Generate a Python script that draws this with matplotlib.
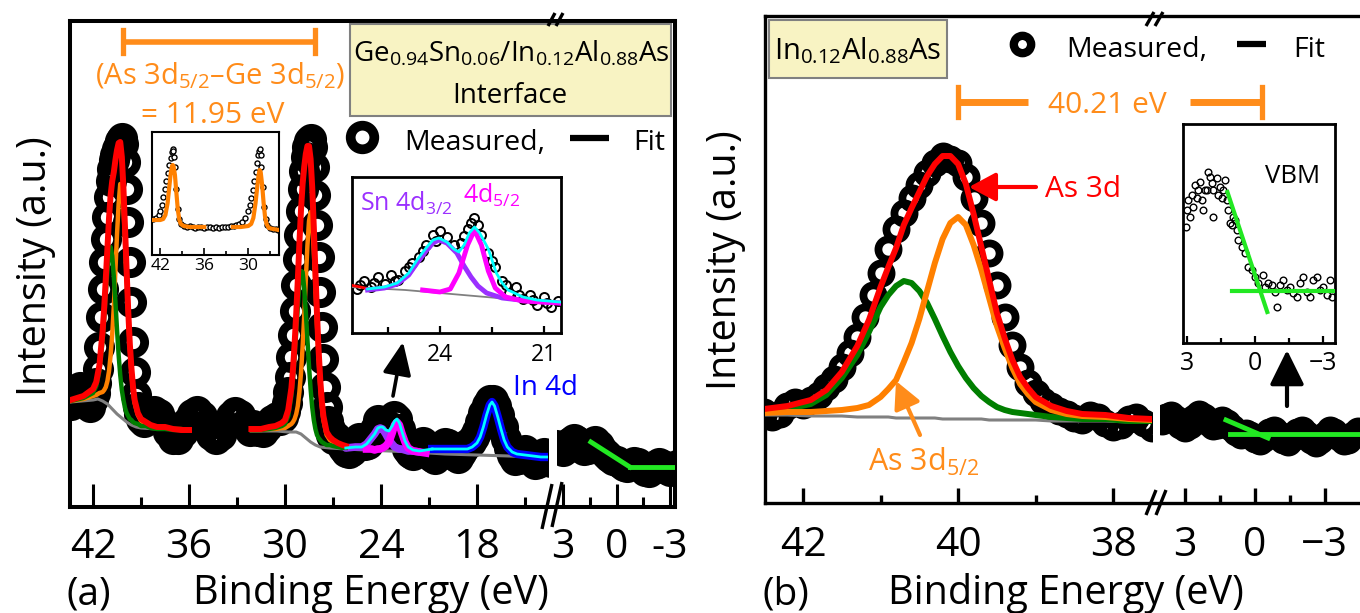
import matplotlib
matplotlib.use("Agg")
import matplotlib.pyplot as plt
from matplotlib.patches import Rectangle

plt.rcParams['font.family'] = ['Open Sans', 'DejaVu Sans']
plt.rcParams['mathtext.fontset'] = 'custom'
plt.rcParams['mathtext.rm'] = 'Open Sans'
plt.rcParams['mathtext.it'] = 'Open Sans:italic'
plt.rcParams['mathtext.bf'] = 'Open Sans:bold'

W, H = 1360, 613

ORANGE = '#FF8000'
ORANGE_T = '#FF8C1A'
GREEN = '#007F00'
LGREEN = '#22E822'
PURPLE = '#9B30FF'
MAGENTA = '#FF00FF'
GRAY = '#808080'

# ---------------- panel (a): Ge0.94Sn0.06 / In0.12Al0.88As interface ----------------
# intensity in arbitrary units, binding energy in eV
a_meas = [
    (43.4, 102), (43.2, 110), (43.0, 118), (42.8, 120), (42.6, 113), (42.4, 104), (42.2, 100), (42.0, 108),
    (41.9, 114), (41.8, 124), (41.7, 138), (41.6, 160), (41.5, 190), (41.4, 218), (41.3, 245), (41.2, 268),
    (41.1, 290), (41.0, 310), (40.9, 326), (40.8, 338), (40.7, 347), (40.6, 352), (40.5, 358), (40.4, 362),
    (40.3, 366), (40.2, 369), (40.1, 363), (40.0, 345), (39.9, 318), (39.8, 285), (39.7, 245), (39.6, 205),
    (39.5, 165), (39.4, 135), (39.3, 112), (39.2, 100), (39.1, 93), (39.0, 88),
    (38.8, 85), (38.5, 92), (38.2, 96), (37.9, 93), (37.6, 85), (37.3, 75), (37.0, 68), (36.7, 68), (36.4, 75),
    (36.1, 85), (35.8, 93), (35.5, 96), (35.2, 91), (34.9, 81), (34.6, 72), (34.3, 68), (34.0, 72), (33.7, 81),
    (33.4, 91), (33.1, 95), (32.8, 92), (32.5, 83), (32.2, 76),
    (32.0, 82), (31.7, 76), (31.4, 75), (31.1, 80), (30.8, 87), (30.5, 90), (30.3, 87), (30.1, 90), (30.0, 96),
    (29.9, 104), (29.8, 115), (29.7, 130), (29.6, 150), (29.5, 172), (29.4, 196), (29.3, 222), (29.2, 248),
    (29.1, 272), (29.0, 296), (28.9, 318), (28.8, 336), (28.7, 350), (28.6, 360), (28.5, 366), (28.4, 368),
    (28.3, 360), (28.2, 340), (28.1, 312), (28.0, 282), (27.9, 250), (27.8, 215), (27.7, 180), (27.6, 148),
    (27.5, 120), (27.4, 100), (27.3, 86), (27.2, 78), (27.1, 72), (27.0, 68),
    (26.8, 70), (26.6, 65), (26.4, 59), (26.2, 55), (26.0, 54), (25.8, 56), (25.6, 63), (25.4, 69), (25.2, 68),
    (25.0, 62), (24.8, 63), (24.6, 70), (24.4, 78), (24.2, 87), (24.0, 84), (23.8, 76), (23.6, 72), (23.4, 80),
    (23.2, 91), (23.0, 88), (22.8, 78), (22.6, 67), (22.4, 58), (22.2, 54), (22.0, 52), (21.8, 57), (21.6, 63),
    (21.4, 65), (21.2, 62), (21.0, 55), (20.8, 50), (20.6, 48), (20.4, 53), (20.2, 60), (20.0, 64), (19.8, 63),
    (19.6, 57), (19.4, 51), (19.2, 49), (19.0, 54), (18.8, 59), (18.6, 63), (18.4, 65), (18.2, 70), (18.0, 76),
    (17.8, 85), (17.6, 94), (17.4, 102), (17.2, 107), (17.0, 107), (16.8, 101), (16.6, 92), (16.4, 80), (16.2, 68),
    (16.0, 59), (15.8, 52), (15.6, 47), (15.4, 48), (15.2, 53), (15.0, 57), (14.8, 53), (14.6, 47), (14.4, 43),
    (14.2, 44), (14.0, 49), (13.8, 54), (13.6, 50), (13.4, 45),
]
a_meas_vb = [
    (3.4, 62), (3.2, 58), (3.0, 56), (2.8, 59), (2.6, 65), (2.4, 68), (2.2, 66), (2.0, 61), (1.8, 57), (1.6, 58),
    (1.4, 64), (1.2, 66), (1.0, 62), (0.8, 57), (0.6, 53), (0.4, 50), (0.2, 47), (0.0, 46), (-0.2, 44), (-0.4, 41),
    (-0.6, 40), (-0.8, 42), (-1.0, 45), (-1.2, 44), (-1.4, 40), (-1.6, 36), (-1.8, 35), (-2.0, 38), (-2.2, 42),
    (-2.4, 44), (-2.6, 42), (-2.8, 38), (-3.0, 36), (-3.2, 38), (-3.4, 42),
]

# As 3d region fit
a_be1 = [43.4, 42.6, 42.0, 41.8, 41.6, 41.4, 41.3, 41.2, 41.1, 41.0, 40.9, 40.8, 40.7, 40.6, 40.5, 40.4, 40.3,
         40.2, 40.1, 40.0, 39.9, 39.8, 39.7, 39.6, 39.5, 39.4, 39.2, 39.0, 38.7, 38.4, 38.0, 37.5, 37.0, 36.5, 36.0]
a_red1 = [107, 111, 118, 125, 142, 176, 200, 229, 259, 289, 312, 326, 335, 347, 357, 364, 365, 350, 319, 279,
          236, 196, 163, 139, 120, 107, 94, 88, 85, 82, 80, 80, 78, 77, 77]
a_orange1 = [106, 108, 111, 112, 114, 115, 117, 120, 126, 136, 152, 173, 201, 237, 273, 303, 323, 322, 300, 266,
             227, 189, 158, 134, 116, 104, 92, 86, 83, 81, 80, 80, 78, 78, 77]
a_green1 = [106, 109, 114, 121, 136, 167, 189, 214, 237, 254, 260, 251, 230, 205, 177, 152, 132, 117, 107, 99,
            94, 91, 88, 87, 85, 84, 83, 81, 81, 79, 78, 78, 77, 77, 77]
a_gray1 = [(43.4, 105), (42.0, 107), (41.7, 108), (41.4, 106), (41.1, 103), (40.8, 98), (40.5, 93), (40.2, 89),
           (39.9, 85), (39.6, 82), (39.3, 80), (39.0, 79), (38.0, 78), (36.0, 77)]

# Ge 3d region fit
a_be2 = [32.1, 31.5, 31.0, 30.6, 30.2, 30.0, 29.8, 29.6, 29.5, 29.4, 29.3, 29.2, 29.1, 29.0, 28.9, 28.8, 28.7,
         28.6, 28.5, 28.4, 28.3, 28.2, 28.1, 28.0, 27.9, 27.8, 27.7, 27.6, 27.4, 27.2, 27.0, 26.7, 26.4, 26.2]
a_red2 = [78, 78, 80, 81, 84, 87, 97, 119, 138, 163, 193, 227, 264, 297, 323, 340, 353, 361, 361, 348, 320, 280,
          236, 193, 157, 128, 106, 91, 75, 70, 67, 64, 62, 61]
a_orange2 = [77, 77, 78, 78, 79, 79, 81, 83, 85, 88, 93, 101, 115, 134, 160, 191, 227, 261, 286, 295, 284, 256,
             220, 182, 149, 121, 101, 87, 72, 67, 65, 62, 61, 60]
a_green2 = [77, 77, 78, 79, 81, 83, 91, 111, 128, 150, 175, 200, 223, 236, 235, 219, 195, 168, 141, 118, 100, 87,
            78, 72, 69, 67, 65, 64, 62, 62, 61, 60, 59, 59]
a_gray2 = [(32.1, 76), (30.5, 76), (29.8, 75), (29.3, 75), (29.0, 73), (28.7, 69), (28.4, 65), (28.1, 62),
           (27.8, 60), (27.2, 59), (26.2, 58), (25.0, 57), (23.5, 56), (22.0, 55), (20.0, 53), (18.0, 52),
           (16.0, 51), (14.5, 50), (13.5, 49)]

# Sn 4d and In 4d fits
a_sn32 = [(26.2, 59), (25.6, 60), (25.2, 60), (24.9, 63), (24.6, 69), (24.4, 73), (24.2, 78), (24.05, 79),
          (23.9, 78), (23.7, 73), (23.5, 67), (23.3, 63), (23.15, 60), (23.0, 59), (22.85, 58), (22.7, 58),
          (22.5, 57), (22.3, 56), (22.0, 56), (21.6, 55)]
a_sn52 = [(24.9, 58), (24.6, 58), (24.4, 57), (24.2, 58), (24.05, 58), (23.9, 59), (23.7, 61), (23.5, 65),
          (23.3, 74), (23.15, 82), (23.0, 85), (22.85, 82), (22.7, 74), (22.5, 65), (22.3, 59), (22.0, 56),
          (21.6, 55), (21.2, 54)]
a_sn_sum = [(26.2, 59), (25.6, 60), (25.2, 60), (24.9, 63), (24.6, 69), (24.4, 73), (24.2, 79), (24.05, 80),
            (23.9, 80), (23.7, 77), (23.5, 76), (23.3, 81), (23.15, 86), (23.0, 88), (22.85, 84), (22.7, 76),
            (22.5, 66), (22.3, 60), (22.0, 57), (21.6, 56), (21.2, 57), (20.8, 58)]
a_in4d = [(20.8, 58), (20.0, 58), (19.4, 58), (19.0, 58), (18.6, 58), (18.3, 60), (18.0, 64), (17.8, 70),
          (17.6, 80), (17.4, 92), (17.2, 102), (17.06, 105), (16.9, 101), (16.7, 90), (16.5, 78), (16.3, 67),
          (16.1, 60), (15.8, 55), (15.5, 53), (15.0, 52), (14.5, 51), (14.0, 50), (13.5, 50)]
a_vb_slope = [(1.44, 65), (-0.75, 40)]
a_vb_flat = [(-0.75, 40), (-3.4, 40)]
a_split = (40.13, 28.13)      # As 3d5/2 and Ge 3d5/2 positions of the bar

# inset: wide As 3d / Ge 3d view
ins1_meas = [
    (43.0, 36), (42.6, 37), (42.2, 40), (42.0, 44), (41.8, 50), (41.6, 58), (41.4, 66), (41.2, 74), (41.0, 82),
    (40.8, 90), (40.6, 97), (40.4, 103), (40.3, 106), (40.2, 104), (40.1, 98), (40.0, 88), (39.8, 66), (39.6, 46),
    (39.4, 36), (39.2, 31), (38.8, 29), (38.4, 28), (38.0, 29), (37.6, 28), (37.2, 27), (36.8, 28), (36.4, 28),
    (36.0, 27), (35.6, 28), (35.2, 28), (34.8, 27), (34.4, 28), (34.0, 27), (33.6, 28), (33.2, 28), (32.8, 28),
    (32.4, 29), (32.0, 29), (31.6, 30), (31.2, 31), (30.8, 33), (30.4, 37), (30.0, 44), (29.8, 50), (29.6, 57),
    (29.4, 65), (29.2, 74), (29.0, 83), (28.8, 92), (28.6, 100), (28.5, 104), (28.4, 106), (28.3, 100),
    (28.2, 88), (28.0, 68), (27.8, 48), (27.6, 36), (27.4, 30), (27.0, 27), (26.6, 26), (26.2, 26), (25.9, 25),
]
ins1_fit_as = [(43.1, 35), (42.0, 35), (41.6, 36), (41.3, 40), (41.0, 52), (40.8, 66), (40.6, 80), (40.4, 89),
               (40.3, 90), (40.2, 89), (40.0, 80), (39.8, 62), (39.6, 45), (39.4, 35), (39.2, 31), (38.8, 29),
               (38.0, 28), (37.0, 28), (36.0, 28)]
ins1_fit_ge = [(32.1, 28), (31.0, 28), (30.0, 29), (29.6, 31), (29.3, 37), (29.0, 52), (28.8, 66), (28.6, 79),
               (28.45, 85), (28.3, 83), (28.1, 70), (27.9, 52), (27.7, 38), (27.5, 31), (27.2, 27), (26.6, 26),
               (25.8, 25)]

# inset: Sn 4d zoom
ins2_meas = [(26.4, 44), (26.3, 48), (26.2, 52), (26.0, 46), (25.9, 50), (25.8, 56), (25.6, 49), (25.4, 58),
             (25.3, 52), (25.2, 53), (25.0, 62), (24.9, 66), (24.8, 70), (24.6, 76), (24.5, 82), (24.4, 88),
             (24.2, 98), (24.1, 92), (24.0, 102), (23.8, 96), (23.6, 88), (23.4, 90), (23.3, 97), (23.2, 104),
             (23.1, 110), (23.0, 115), (22.9, 108), (22.8, 98), (22.6, 80), (22.5, 72), (22.4, 66), (22.2, 52),
             (22.1, 48), (22.0, 40), (21.8, 46), (21.7, 38), (21.6, 34), (21.4, 38), (21.3, 33), (21.2, 28),
             (21.0, 36), (20.9, 30), (20.8, 26), (20.6, 32)]
ins2_red = [(26.6, 48), (26.3, 46), (26.05, 44)]
ins2_gray = [(26.6, 46), (25.0, 43), (24.0, 40), (23.0, 37), (22.0, 34), (21.0, 32), (20.5, 31)]
ins2_sn32 = [(26.09, 43), (25.6, 45), (25.23, 49), (24.9, 58), (24.66, 70), (24.4, 82), (24.2, 90), (24.03, 93),
             (23.8, 90), (23.51, 80), (23.3, 67), (23.1, 56), (22.9, 47), (22.65, 40), (22.2, 35), (21.69, 33),
             (21.0, 31), (20.54, 30)]
ins2_sn52 = [(24.5, 43), (24.0, 41), (23.7, 44), (23.45, 60), (23.2, 88), (23.0, 103), (22.8, 88), (22.6, 62),
             (22.4, 45), (22.1, 36), (21.6, 32), (20.54, 30)]
ins2_sum = [(26.09, 44), (25.6, 46), (25.23, 50), (24.9, 60), (24.66, 73), (24.4, 85), (24.2, 93), (24.03, 95),
            (23.8, 91), (23.6, 84), (23.45, 81), (23.3, 88), (23.15, 100), (23.0, 106), (22.85, 100), (22.6, 84),
            (22.37, 60), (22.2, 50), (22.03, 43), (21.6, 36), (21.2, 33), (20.54, 31)]

# ---------------- panel (b): In0.12Al0.88As ----------------
b_meas = [
    (42.5, 91), (42.4, 86), (42.3, 89), (42.2, 97), (42.1, 101), (42.0, 98), (41.9, 103), (41.8, 108),
    (41.7, 116), (41.6, 124), (41.5, 136), (41.4, 150), (41.3, 166), (41.2, 186), (41.1, 208), (41.0, 230),
    (40.9, 254), (40.8, 274), (40.7, 290), (40.6, 305), (40.5, 318), (40.4, 330), (40.3, 340), (40.2, 347),
    (40.1, 344), (40.0, 340), (39.9, 326), (39.8, 305), (39.7, 280), (39.6, 250), (39.5, 218), (39.4, 186),
    (39.3, 158), (39.2, 136), (39.1, 120), (39.0, 110), (38.9, 102), (38.8, 97), (38.7, 92), (38.6, 89),
    (38.5, 85), (38.4, 83), (38.3, 88), (38.2, 86), (38.1, 80), (38.0, 76), (37.9, 78), (37.8, 84), (37.7, 86),
    (37.6, 80), (37.5, 75),
]
b_meas_vb = [
    (4.0, 82), (3.8, 86), (3.6, 88), (3.4, 84), (3.2, 78), (3.0, 75), (2.8, 78), (2.6, 85), (2.4, 89), (2.2, 86),
    (2.0, 81), (1.8, 77), (1.6, 78), (1.4, 83), (1.2, 80), (1.0, 75), (0.8, 71), (0.6, 68), (0.4, 70), (0.2, 68),
    (0.0, 64), (-0.2, 62), (-0.4, 65), (-0.6, 71), (-0.8, 73), (-1.0, 69), (-1.2, 63), (-1.4, 61), (-1.6, 65),
    (-1.8, 71), (-2.0, 73), (-2.2, 69), (-2.4, 63), (-2.6, 60), (-2.8, 63), (-3.0, 68), (-3.2, 73), (-3.4, 71),
    (-3.6, 66), (-3.8, 62), (-4.0, 63), (-4.2, 68), (-4.4, 72), (-4.6, 70),
]
b_be = [42.5, 42.2, 41.9, 41.7, 41.5, 41.3, 41.15, 41.0, 40.9, 40.8, 40.7, 40.6, 40.5, 40.4, 40.3, 40.2, 40.1,
        40.0, 39.9, 39.8, 39.7, 39.6, 39.5, 39.4, 39.3, 39.2, 39.1, 39.0, 38.8, 38.6, 38.4, 38.1, 37.8, 37.5]
b_gray = [88, 88, 87, 87, 87, 86, 86, 86, 86, 85, 85, 85, 85, 85, 85, 84, 84, 84, 84, 84, 84, 83, 83, 83, 83,
          83, 83, 83, 82, 82, 82, 82, 81, 81]
b_green = [92, 94, 99, 108, 125, 148, 171, 196, 208, 217, 222, 220, 212, 200, 184, 167, 151, 137, 125, 115,
           107, 101, 96, 93, 91, 90, 89, 88, 86, 85, 84, 84, 82, 82]
b_orange = [90, 91, 91, 92, 93, 95, 98, 106, 114, 123, 141, 160, 184, 212, 240, 264, 280, 286, 278, 258, 233,
            205, 177, 155, 135, 119, 109, 101, 93, 89, 87, 86, 84, 83]
b_red = [94, 97, 103, 113, 131, 157, 183, 216, 236, 255, 278, 295, 311, 327, 339, 347, 347, 339, 319, 289, 256,
         223, 190, 165, 143, 126, 115, 106, 97, 92, 89, 88, 85, 84]
b_vb_slope = [(1.24, 83), (-0.56, 65)]
b_vb_flat = [(1.07, 69), (-6.0, 69)]
b_split = (40.0, -0.30)       # As 3d5/2 and VBM positions of the 40.21 eV bar

# VBM inset
vbm_meas = [
    (3.04, 116), (3.02, 133), (2.94, 143), (2.87, 126), (2.80, 148), (2.72, 136), (2.65, 158), (2.57, 145),
    (2.50, 153), (2.43, 161), (2.35, 143), (2.28, 133), (2.21, 153), (2.13, 153), (2.06, 171), (1.99, 166),
    (1.91, 160), (1.87, 126), (1.84, 153), (1.69, 165), (1.62, 148), (1.55, 156), (1.47, 145), (1.40, 153),
    (1.33, 163), (1.25, 143), (1.18, 133), (1.10, 120), (1.03, 118), (0.96, 126), (0.88, 123), (0.81, 113),
    (0.74, 103), (0.59, 96), (0.44, 90), (0.30, 76), (0.15, 73), (0.0, 66), (-0.15, 60), (-0.37, 68),
    (-0.44, 56), (-0.59, 60), (-0.73, 58), (-0.88, 51), (-0.96, 36), (-1.10, 58), (-1.25, 63), (-1.40, 53),
    (-1.54, 56), (-1.69, 50), (-1.84, 46), (-1.99, 60), (-2.13, 66), (-2.28, 51), (-2.43, 46), (-2.57, 63),
    (-2.72, 66), (-2.87, 53), (-3.01, 56), (-3.16, 48), (-3.31, 63), (-3.38, 46),
]
vbm_slope = [(1.22, 151), (-0.54, 31)]
vbm_flat = [(1.03, 52), (-3.46, 52)]


def xy(pairs):
    return [p[0] for p in pairs], [p[1] for p in pairs]


def rect(x0, x1, y0, y1):
    # pixel box (left, right, top, bottom) -> figure fraction
    return [x0 / W, 1 - y1 / H, (x1 - x0) / W, (y1 - y0) / H]


fig = plt.figure(figsize=(W / 100, H / 100), dpi=100)


def frame(box, lw):
    ax = fig.add_axes(rect(*box), zorder=1)
    ax.set_xticks([])
    ax.set_yticks([])
    for s in ax.spines.values():
        s.set_linewidth(lw)
    return ax


def data_ax(box, xlim, ylim, majors, labels, minors, lens, width, pad, size, z=2, white=False, lw=None):
    ax = fig.add_axes(rect(*box), zorder=z)
    if not white:
        ax.patch.set_alpha(0)
    for s in ax.spines.values():
        if lw is None:
            s.set_visible(False)
        else:
            s.set_linewidth(lw)
    ax.set_xlim(*xlim)
    ax.set_ylim(*ylim)
    ax.set_yticks([])
    ax.set_xticks(majors)
    ax.set_xticklabels(labels)
    ax.set_xticks(minors, minor=True)
    ax.tick_params(axis='x', which='major', direction='in', length=lens[0], width=width, pad=pad,
                   labelsize=size)
    ax.tick_params(axis='x', which='minor', direction='in', length=lens[1], width=width)
    return ax


# ---------- panel (a) ----------
frame((70, 675, 21, 507), 2.9)
ax1 = data_ax((70, 548, 21, 507), (43.44, 13.56), (0, 486), [42, 36, 30, 24, 18],
              ['42', '36', '30', '24', '18'], [39, 33, 27, 21, 15], (16.5, 7), 2.2, 15, 29.5)
ax2 = data_ax((557, 675, 21, 507), (3.34, -3.28), (0, 486), [3, 0, -3], ['3', '0', '-3'],
              [1.5, -1.5], (16.5, 7), 2.2, 15, 29.5)

mk = dict(marker='o', ls='none', ms=16, mew=6.4, mfc='none', mec='black', zorder=2)
ax1.plot(*xy(a_meas), **mk)
ax2.plot(*xy(a_meas_vb), **mk)

ax1.plot(*xy(a_gray1), color=GRAY, lw=2.2, zorder=3)
ax1.plot(*xy(a_gray2), color=GRAY, lw=2.2, zorder=3)
ax1.plot(a_be1, a_orange1, color=ORANGE, lw=3.2, zorder=4)
ax1.plot(a_be1, a_green1, color=GREEN, lw=3.2, zorder=5)
ax1.plot(a_be1, a_red1, color='red', lw=4.3, zorder=6)
ax1.plot(a_be2, a_orange2, color=ORANGE, lw=3.2, zorder=4)
ax1.plot(a_be2, a_green2, color=GREEN, lw=3.2, zorder=5)
ax1.plot(a_be2, a_red2, color='red', lw=4.3, zorder=6)
ax1.plot(*xy(a_sn32), color=PURPLE, lw=5.5, zorder=4, solid_capstyle='round')
ax1.plot(*xy(a_sn52), color=MAGENTA, lw=5.5, zorder=5)
ax1.plot(*xy(a_in4d), color='blue', lw=6, zorder=4)
ax1.plot(*xy(a_sn_sum), color='cyan', lw=2, zorder=7)
ax1.plot(*xy(a_in4d), color='cyan', lw=2, zorder=7)
ax2.plot(*xy(a_vb_slope), color=LGREEN, lw=3.5, zorder=4)
ax2.plot(*xy(a_vb_flat), color=LGREEN, lw=3.5, zorder=4)

# energy separation bar
ax1.plot(list(a_split), [465, 465], color=ORANGE_T, lw=4, zorder=6, solid_capstyle='butt')
for e in a_split:
    ax1.plot([e, e], [454, 477], color=ORANGE_T, lw=3.8, zorder=6)

# inset: overview
in1 = data_ax((152, 279, 132, 255), (43.13, 25.8), (0, 123), [42, 36, 30], ['42', '36', '30'],
              [39, 33, 27], (5, 3), 1.2, 2, 12.5, z=3, white=True, lw=1.5)
in1.plot(*xy(ins1_meas), marker='o', ls='none', ms=3.6, mew=1.0, mfc='white', mec='black', zorder=2)
in1.plot(*xy(ins1_fit_as), color=ORANGE, lw=3, zorder=3)
in1.plot(*xy(ins1_fit_ge), color=ORANGE, lw=3, zorder=3)

# inset: Sn 4d
in2 = data_ax((352, 561, 177, 333), (26.54, 20.5), (0, 156), [24, 21], ['24', '21'], [25.5, 22.5],
              (5, 4), 1.6, 7, 16.5, z=3, white=True, lw=2)
in2.plot(*xy(ins2_meas), marker='o', ls='none', ms=6.5, mew=1.4, mfc='none', mec='black', zorder=2)
in2.plot(*xy(ins2_gray), color=GRAY, lw=1.3, zorder=3)
in2.plot(*xy(ins2_red), color='red', lw=2, zorder=3)
in2.plot(*xy(ins2_sn32), color=PURPLE, lw=3.5, zorder=4)
in2.plot(*xy(ins2_sn52), color=MAGENTA, lw=3.5, zorder=5)
in2.plot(*xy(ins2_sum), color='cyan', lw=2, zorder=6)

# ---------- panel (b) ----------
frame((765, 1400, 16, 503), 2.4)
bx1 = data_ax((765, 1152, 16, 503), (42.49, 37.50), (0, 487), [42, 40, 38], ['42', '40', '38'],
              [41, 39], (11, 6), 2.4, 16, 29.5)
bx2 = data_ax((1160, 1400, 16, 503), (4.07, -6.22), (0, 487), [3, 0, -3], ['3', '0', '\u22123'],
              [1.5, -1.5], (11, 6), 2.4, 16, 29.5)

mkb = dict(marker='o', ls='none', ms=14.5, mew=5.6, mfc='none', mec='black', zorder=2)
bx1.plot(*xy(b_meas), **mkb)
bx2.plot(*xy(b_meas_vb), **mkb)
bx1.plot(b_be, b_gray, color=GRAY, lw=2.2, zorder=3)
bx1.plot(b_be, b_green, color=GREEN, lw=4.3, zorder=4)
bx1.plot(b_be, b_orange, color=ORANGE, lw=4.3, zorder=5)
bx1.plot(b_be, b_red, color='red', lw=4.3, zorder=6)
bx2.plot(*xy(b_vb_slope), color=LGREEN, lw=3.5, zorder=4)
bx2.plot(*xy(b_vb_flat), color=LGREEN, lw=3.5, zorder=4)

# 40.21 eV bar, split across the axis break
bx1.plot([b_split[0], 39.1], [401, 401], color=ORANGE_T, lw=5, solid_capstyle='butt', zorder=6)
bx1.plot([b_split[0]] * 2, [386, 416], color=ORANGE_T, lw=3.8, zorder=6)
bx2.plot([2.79, b_split[1]], [401, 401], color=ORANGE_T, lw=5, solid_capstyle='butt', zorder=6)
bx2.plot([b_split[1]] * 2, [386, 416], color=ORANGE_T, lw=3.8, zorder=6)

# inset: VBM
in3 = data_ax((1183, 1335, 124, 343), (3.18, -3.53), (0, 219), [3, 0, -3], ['3', '0', '\u22123'],
              [1.5, -1.5], (5, 3.5), 1.6, 6, 18, z=3, white=True, lw=2)
in3.plot(*xy(vbm_meas), marker='o', ls='none', ms=4.8, mew=1.0, mfc='none', mec='black', zorder=2)
in3.plot(*xy(vbm_slope), color=LGREEN, lw=3, zorder=3)
in3.plot(*xy(vbm_flat), color=LGREEN, lw=3, zorder=3)

# ---------- labels, legends and arrows (pixel overlay) ----------
ov = fig.add_axes([0, 0, 1, 1], zorder=5)
ov.set_xlim(0, W)
ov.set_ylim(H, 0)
ov.axis('off')

# axis breaks
for (x0, y0, x1, y1) in [(548, 26, 555, 13), (556, 26, 563, 13), (542, 529, 552, 484), (552, 527, 562, 482),
                         (1146, 26, 1154, 12), (1155, 26, 1163, 12), (1146, 515, 1156, 490), (1156, 515, 1166, 490)]:
    ov.plot([x0, x1], [y0, y1], color='k', lw=2.4, solid_capstyle='butt')

ov.text(36, 266, 'Intensity (a.u.)', rotation=90, ha='center', va='center', fontsize=28.5)
ov.text(726, 260, 'Intensity (a.u.)', rotation=90, ha='center', va='center', fontsize=28.5)
ov.text(67, 604, '(a)', fontsize=28, va='baseline')
ov.text(371, 604, 'Binding Energy (eV)', ha='center', va='baseline', fontsize=28.5)
ov.text(762, 604, '(b)', fontsize=28, va='baseline')
ov.text(1066, 604, 'Binding Energy (eV)', ha='center', va='baseline', fontsize=28.5)

ov.text(220, 84, '(As 3d$_{5/2}$\u2013Ge 3d$_{5/2}$)', color=ORANGE_T, fontsize=21, ha='center', va='baseline')
ov.text(213, 123, '= 11.95 eV', color=ORANGE_T, fontsize=21.5, ha='center', va='baseline')

ov.add_patch(Rectangle((350, 24), 321, 92, fc='#F8F3C3', ec='#808080', lw=1.5))
ov.text(511, 61, 'Ge$_{0.94}$Sn$_{0.06}$/In$_{0.12}$Al$_{0.88}$As', fontsize=20, ha='center', va='baseline')
ov.text(510, 103, 'Interface', fontsize=20, ha='center', va='baseline')

ov.plot(362, 137, 'o', ms=17, mew=7, mfc='white', mec='k')
ov.text(404, 150, 'Measured,', fontsize=20.5, va='baseline')
ov.plot([570, 609], [138, 138], color='k', lw=4.5, solid_capstyle='butt')
ov.text(633, 150, 'Fit', fontsize=20.5, va='baseline')

ov.text(513, 395, 'In 4d', color='blue', fontsize=20, va='baseline')
ov.text(360, 211, 'Sn 4d$_{3/2}$', color=PURPLE, fontsize=18, va='baseline')
ov.text(463, 203, '4d$_{5/2}$', color=MAGENTA, fontsize=18, va='baseline')
ov.annotate('', xy=(403, 342), xytext=(393, 396),
            arrowprops=dict(arrowstyle='-|>,head_length=0.8,head_width=0.35', lw=2.6, color='k',
                            shrinkA=0, shrinkB=0, mutation_scale=25))

ov.add_patch(Rectangle((769, 20), 178, 58, fc='#F8F3C3', ec='#808080', lw=1.5))
ov.text(858, 59, 'In$_{0.12}$Al$_{0.88}$As', fontsize=21, ha='center', va='baseline')
ov.plot(1022, 44, 'o', ms=12.5, mew=6, mfc='white', mec='k')
ov.text(1066, 57, 'Measured,', fontsize=20.5, va='baseline')
ov.plot([1237, 1266], [44, 44], color='k', lw=4.5, solid_capstyle='butt')
ov.text(1293, 57, 'Fit', fontsize=20.5, va='baseline')

ov.text(1107, 113, '40.21 eV', color=ORANGE_T, fontsize=21.5, ha='center', va='baseline')
ov.text(1045, 197, 'As 3d', color='red', fontsize=21.5, va='baseline')
ov.annotate('', xy=(969, 187), xytext=(1036, 187),
            arrowprops=dict(arrowstyle='-|>,head_length=0.65,head_width=0.35', lw=3, color='red',
                            shrinkA=0, shrinkB=0, mutation_scale=25))
ov.text(868, 471, 'As 3d$_{5/2}$', color=ORANGE_T, fontsize=22, va='baseline')
ov.annotate('', xy=(896, 381), xytext=(920, 435),
            arrowprops=dict(arrowstyle='-|>,head_length=0.65,head_width=0.33', lw=3, color=ORANGE_T,
                            shrinkA=0, shrinkB=0, mutation_scale=25))
ov.annotate('', xy=(1287, 350), xytext=(1287, 406),
            arrowprops=dict(arrowstyle='-|>,head_length=0.85,head_width=0.42', lw=3, color='k',
                            shrinkA=0, shrinkB=0, mutation_scale=25))
ov.text(1265, 183, 'VBM', fontsize=18.5, va='baseline')

fig.savefig('out.png', dpi=100)
